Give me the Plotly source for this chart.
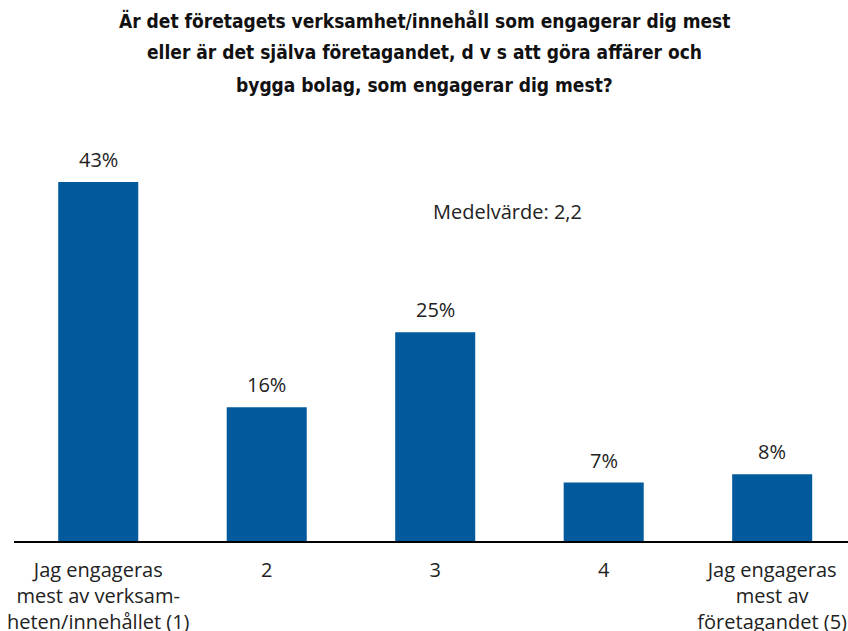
import plotly.graph_objects as go

categories = ["Jag engageras<br>mest av verksam-<br>heten/innehållet (1)", "2", "3", "4",
              "Jag engageras<br>mest av<br>företagandet (5)"]
values = [43, 16, 25, 7, 8]
value_labels = ["43%", "16%", "25%", "7%", "8%"]
title_lines = ["Är det företagets verksamhet/innehåll som engagerar dig mest",
               "eller är det själva företagandet, d v s att göra affärer och",
               "bygga bolag, som engagerar dig mest?"]
mean_text = "Medelvärde: 2,2"

BAR = "#005A9C"
TXT = "#222222"
FONT = "Open Sans, Noto Sans, DejaVu Sans, sans-serif"
TFONT = "Liberation Sans Narrow, DejaVu Sans Condensed, Arial Narrow, sans-serif"

x_pos = list(range(len(values)))

fig = go.Figure()
fig.add_trace(go.Bar(
    x=x_pos, y=values, width=0.475,
    marker=dict(color=BAR, line=dict(width=0)),
    hoverinfo="skip",
))

W, H = 848, 631
ml, mr, mt, mb = 14, 0, 122, 90

annotations = []
for xi, v, lab in zip(x_pos, values, value_labels):
    annotations.append(dict(
        text=lab, x=xi, y=v, xref="x", yref="y",
        xanchor="center", yanchor="bottom", yshift=7, showarrow=False,
        font=dict(size=20, color=TXT, family=FONT),
    ))
title_y = [20, 52, 85]
for line, yp in zip(title_lines, title_y):
    annotations.append(dict(
        text="<b>" + line + "</b>", xref="paper", yref="paper",
        x=(424 - ml) / (W - ml - mr), y=(H - mb - yp) / (H - mt - mb),
        xanchor="center", yanchor="middle", showarrow=False,
        font=dict(size=19, color="#111111", family=TFONT),
    ))
annotations.append(dict(
    text=mean_text, xref="paper", yref="paper",
    x=(507 - ml) / (W - ml - mr), y=(H - mb - 211) / (H - mt - mb),
    xanchor="center", yanchor="middle", showarrow=False,
    font=dict(size=20, color=TXT, family=FONT),
))

fig.update_layout(
    width=W, height=H,
    margin=dict(l=ml, r=mr, t=mt, b=mb, pad=0, autoexpand=False),
    paper_bgcolor="white", plot_bgcolor="white",
    showlegend=False, bargap=0.5,
    annotations=annotations,
    xaxis=dict(
        tickmode="array", tickvals=x_pos, ticktext=categories,
        range=[-0.5, 4.45], showgrid=False, zeroline=False, automargin=False,
        showline=True, linecolor="black", linewidth=2,
        ticks="outside", ticklen=10, tickcolor="rgba(0,0,0,0)",
        tickfont=dict(size=20, color=TXT, family=FONT), tickangle=0,
    ),
    yaxis=dict(range=[0, 50.17], visible=False, showgrid=False, zeroline=False,
               automargin=False),
)

fig.write_html("out.html", config={"displayModeBar": False},
               post_script="document.body.style.margin='0';document.body.style.padding='0';")
